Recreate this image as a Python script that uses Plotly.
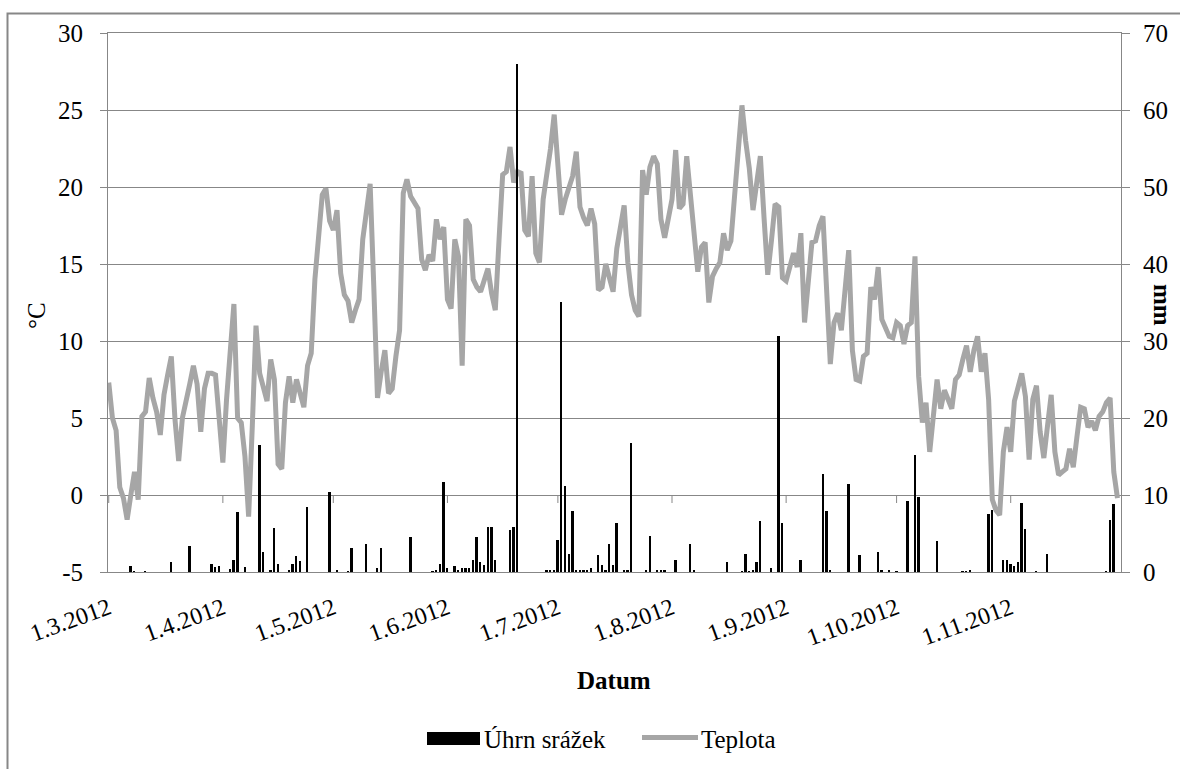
import datetime as dt
import plotly.graph_objects as go

# Daily mean air temperature (°C), one list per month, 1.3.2012 - 30.11.2012
TEMP_MAR = [7.3, 5.0, 4.2, 0.5, -0.2, -1.6, 0.0, 1.5, -0.3, 5.1,
            5.4, 7.6, 6.3, 5.4, 3.9, 6.5, 7.8, 9.0, 4.9, 2.2,
            5.0, 6.3, 7.2, 8.4, 7.2, 4.1, 6.9, 7.9, 7.9, 7.8, 5.0]
TEMP_APR = [2.1, 6.2, 9.3, 12.4, 5.0, 4.7, 2.5, -1.4, 4.5, 11.0,
            7.9, 7.0, 6.1, 8.8, 7.5, 2.0, 1.7, 6.0, 7.7, 6.0,
            7.5, 6.6, 5.7, 8.4, 9.2, 14.0, 17.0, 19.5, 19.9, 17.8]
TEMP_MAY = [17.2, 18.5, 14.4, 13.0, 12.6, 11.2, 12.0, 12.7, 16.6, 18.5,
            20.2, 13.5, 6.3, 8.0, 9.4, 6.6, 6.9, 9.0, 10.7, 19.6,
            20.5, 19.4, 19.0, 18.6, 15.3, 14.6, 15.6, 15.2, 17.9, 16.6, 17.4]
TEMP_JUN = [12.7, 12.1, 16.6, 15.5, 8.4, 17.9, 17.5, 14.0, 13.5, 13.2,
            14.0, 14.7, 13.1, 12.0, 16.5, 20.8, 21.0, 22.6, 20.3, 21.0,
            20.9, 17.2, 16.8, 20.7, 15.7, 15.1, 19.2, 20.7, 22.5, 24.7]
TEMP_JUL = [21.3, 18.2, 19.2, 20.0, 20.7, 22.3, 18.7, 18.0, 17.5, 18.6,
            17.6, 13.3, 13.5, 15.0, 14.2, 13.2, 16.0, 17.2, 18.8, 15.1,
            13.0, 12.0, 11.6, 21.1, 19.5, 21.3, 22.0, 21.5, 17.9, 16.7, 17.8]
TEMP_AUG = [19.2, 22.4, 18.6, 18.9, 22.0, 19.5, 17.2, 14.5, 16.1, 16.4,
            12.5, 14.2, 14.7, 15.1, 17.0, 15.9, 16.5, 19.6, 22.5, 25.3,
            23.0, 21.2, 18.5, 20.0, 22.0, 18.0, 14.3, 16.5, 18.9, 18.7, 14.1]
TEMP_SEP = [13.9, 14.8, 15.7, 14.8, 17.0, 11.2, 13.8, 16.4, 16.5, 17.5,
            18.1, 12.9, 8.5, 11.2, 11.8, 10.7, 13.0, 15.9, 9.4, 7.5,
            7.4, 9.0, 9.2, 13.5, 12.7, 14.8, 11.4, 10.8, 10.3, 10.2]
TEMP_OCT = [11.2, 11.0, 9.8, 11.0, 11.2, 15.5, 7.7, 4.7, 6.0, 2.8,
            5.0, 7.5, 5.6, 6.8, 6.2, 5.6, 7.5, 7.8, 8.8, 9.7,
            8.0, 9.4, 10.3, 8.0, 9.2, 6.2, -0.3, -1.0, -1.3, 2.8, 4.4]
TEMP_NOV = [2.8, 6.1, 7.0, 7.9, 6.4, 2.3, 6.2, 7.1, 4.1, 2.4,
            4.5, 6.5, 2.8, 1.3, 1.5, 1.7, 3.0, 1.8, 3.8, 5.7,
            5.6, 4.4, 4.8, 4.2, 5.1, 5.4, 6.0, 6.3, 1.5, -0.2]

# Daily precipitation totals (mm) on days with rain
RAIN_DATES = [
    "2012-03-07", "2012-03-08", "2012-03-11", "2012-03-18", "2012-03-23",
    "2012-03-29", "2012-03-30", "2012-03-31", "2012-04-03", "2012-04-04",
    "2012-04-05", "2012-04-07", "2012-04-11", "2012-04-12", "2012-04-14",
    "2012-04-15", "2012-04-16", "2012-04-19", "2012-04-20", "2012-04-21",
    "2012-04-22", "2012-04-24", "2012-04-30", "2012-05-02", "2012-05-05",
    "2012-05-06", "2012-05-10", "2012-05-13", "2012-05-14", "2012-05-22",
    "2012-05-28", "2012-05-29", "2012-05-30", "2012-05-31", "2012-06-01",
    "2012-06-03", "2012-06-04", "2012-06-05", "2012-06-06", "2012-06-07",
    "2012-06-08", "2012-06-09", "2012-06-10", "2012-06-11", "2012-06-12",
    "2012-06-13", "2012-06-14", "2012-06-18", "2012-06-19", "2012-06-20",
    "2012-06-28", "2012-06-29", "2012-06-30", "2012-07-01", "2012-07-02",
    "2012-07-03", "2012-07-04", "2012-07-05", "2012-07-06", "2012-07-07",
    "2012-07-08", "2012-07-09", "2012-07-10", "2012-07-12", "2012-07-13",
    "2012-07-14", "2012-07-15", "2012-07-16", "2012-07-17", "2012-07-19",
    "2012-07-20", "2012-07-21", "2012-07-25", "2012-07-26", "2012-07-28",
    "2012-07-29", "2012-07-30", "2012-08-02", "2012-08-06", "2012-08-07",
    "2012-08-16", "2012-08-20", "2012-08-21", "2012-08-22", "2012-08-23",
    "2012-08-24", "2012-08-25", "2012-08-28", "2012-08-30", "2012-08-31",
    "2012-09-05", "2012-09-11", "2012-09-12", "2012-09-13", "2012-09-18",
    "2012-09-21", "2012-09-26", "2012-09-27", "2012-09-29", "2012-10-01",
    "2012-10-04", "2012-10-06", "2012-10-07", "2012-10-12", "2012-10-19",
    "2012-10-20", "2012-10-21", "2012-10-26", "2012-10-27", "2012-10-30",
    "2012-10-31", "2012-11-01", "2012-11-02", "2012-11-03", "2012-11-04",
    "2012-11-05", "2012-11-08", "2012-11-11", "2012-11-27", "2012-11-28",
    "2012-11-29",
]
RAIN_MM = [
    0.8, 0.1, 0.1, 1.3, 3.4,
    1.0, 0.6, 0.8, 0.4, 1.6,
    7.8, 0.6, 16.5, 2.6, 0.3,
    5.7, 1.0, 0.3, 1.0, 2.1,
    1.4, 8.4, 10.4, 0.2, 0.1,
    3.1, 3.6, 0.5, 3.1, 4.5,
    0.1, 0.3, 1.0, 11.7, 0.5,
    0.8, 0.2, 0.5, 0.5, 0.5,
    1.6, 4.6, 1.3, 0.9, 5.8,
    5.8, 1.6, 5.5, 5.9, 66.0,
    0.3, 0.3, 0.3, 4.2, 35.1,
    11.2, 2.4, 7.9, 0.2, 0.3,
    0.2, 0.2, 0.5, 2.2, 0.9,
    0.3, 3.6, 0.9, 6.3, 0.3,
    0.3, 16.8, 0.3, 4.7, 0.3,
    0.3, 0.3, 1.6, 3.6, 0.3,
    1.3, 0.1, 2.4, 0.1, 0.3,
    1.3, 6.6, 0.5, 30.6, 6.3,
    1.6, 12.7, 7.9, 0.3, 11.4,
    2.2, 2.6, 0.3, 0.3, 0.1,
    9.2, 15.2, 9.7, 4.0, 0.1,
    0.1, 0.2, 7.5, 8.0, 1.6,
    1.6, 1.0, 0.8, 1.3, 9.0,
    5.6, 0.1, 2.4, 0.1, 6.8,
    8.8,
]

# Axis ticks
MONTH_STARTS = ["2012-03-01", "2012-04-01", "2012-05-01", "2012-06-01", "2012-07-01",
                "2012-08-01", "2012-09-01", "2012-10-01", "2012-11-01"]
TEMP_TICKS = [-5, 0, 5, 10, 15, 20, 25, 30]
RAIN_TICKS = [0, 10, 20, 30, 40, 50, 60, 70]

temperature = (TEMP_MAR + TEMP_APR + TEMP_MAY + TEMP_JUN + TEMP_JUL
               + TEMP_AUG + TEMP_SEP + TEMP_OCT + TEMP_NOV)
start = dt.date(2012, 3, 1)
days = [(start + dt.timedelta(days=i)).isoformat() for i in range(len(temperature))]

GRID = "#878787"
LINE_GRAY = "#A6A6A6"
FONT = "Times New Roman"

W, H = 1180, 769
ML, MR, MT, MB = 108, 59, 33, 197
PW, PH = W - ML - MR, H - MT - MB


def px(x):
    return (x - ML) / PW


def py(y):
    return (H - MB - y) / PH


def txt(size, **kw):
    return dict(family=FONT, size=size, color="black", **kw)


fig = go.Figure()

fig.add_trace(go.Scatter(
    x=days, y=temperature, mode="lines", name="Teplota",
    line=dict(color=LINE_GRAY, width=5), yaxis="y", showlegend=False,
))
fig.add_trace(go.Bar(
    x=RAIN_DATES, y=RAIN_MM, name="Úhrn srážek",
    marker=dict(color="black", line=dict(width=0)),
    width=0.5 * 86400000, yaxis="y2", showlegend=False,
))

# small tick marks on the 0 °C line at each month start
shapes = []
for d in MONTH_STARTS:
    shapes.append(dict(type="line", xref="x", yref="y", x0=d, x1=d,
                       ysizemode="pixel", yanchor=0, y0=0, y1=-8,
                       line=dict(color=GRID, width=1)))

# outer chart frame
shapes.append(dict(type="rect", xref="paper", yref="paper",
                   x0=px(7.5), x1=px(1195), y0=py(785), y1=py(13.5),
                   line=dict(color=GRID, width=2), fillcolor="rgba(0,0,0,0)"))

# legend keys
shapes.append(dict(type="rect", xref="paper", yref="paper",
                   x0=px(427), x1=px(480), y0=py(745), y1=py(732),
                   line=dict(width=0), fillcolor="black"))
shapes.append(dict(type="line", xref="paper", yref="paper",
                   x0=px(642), x1=px(698), y0=py(737.5), y1=py(737.5),
                   line=dict(color=LINE_GRAY, width=5)))

annotations = [
    dict(text="<b>Datum</b>", xref="paper", yref="paper", x=px(614), y=py(680),
         xanchor="center", yanchor="middle", showarrow=False, font=txt(25)),
    dict(text="°C", xref="paper", yref="paper", x=px(37), y=py(316),
         xanchor="center", yanchor="middle", showarrow=False, textangle=-90,
         font=txt(25)),
    dict(text="<b>mm</b>", xref="paper", yref="paper", x=px(1163), y=py(305),
         xanchor="center", yanchor="middle", showarrow=False, textangle=90,
         font=txt(25)),
    dict(text="Úhrn srážek", xref="paper", yref="paper", x=px(482), y=py(739),
         xanchor="left", yanchor="middle", showarrow=False, font=txt(25)),
    dict(text="Teplota", xref="paper", yref="paper", x=px(699), y=py(739),
         xanchor="left", yanchor="middle", showarrow=False, font=txt(25)),
]

fig.update_layout(
    width=W, height=H,
    margin=dict(l=ML, r=MR, t=MT, b=MB, autoexpand=False),
    paper_bgcolor="white", plot_bgcolor="white",
    font=txt(25),
    showlegend=False,
    bargap=0,
    xaxis=dict(
        type="date",
        range=["2012-02-29 19:12", "2012-11-30 23:00"],
        tick0="2012-03-01", dtick="M1", tickformat="%-d.%-m.%Y",
        tickangle=-20, ticks="", showgrid=False,
        showline=True, linecolor=GRID, linewidth=1, mirror=True,
        tickfont=txt(24),
        ticklabelstandoff=12,
    ),
    yaxis=dict(
        range=[-5, 30], tickvals=TEMP_TICKS, ticktext=[str(v) for v in TEMP_TICKS],
        ticks="outside", ticklen=7, tickcolor=GRID, tickwidth=1,
        showgrid=True, gridcolor=GRID, gridwidth=1, zeroline=False,
        showline=True, linecolor=GRID, linewidth=1,
        tickfont=txt(25),
        ticklabelstandoff=12,
    ),
    yaxis2=dict(
        range=[0, 70], tickvals=RAIN_TICKS, ticktext=[str(v) for v in RAIN_TICKS],
        overlaying="y", side="right",
        ticks="outside", ticklen=8, tickcolor=GRID, tickwidth=1,
        showgrid=False, zeroline=False,
        showline=True, linecolor=GRID, linewidth=1,
        tickfont=txt(25),
        ticklabelstandoff=8,
    ),
    shapes=shapes,
    annotations=annotations,
)

fig.write_html("out.html")
